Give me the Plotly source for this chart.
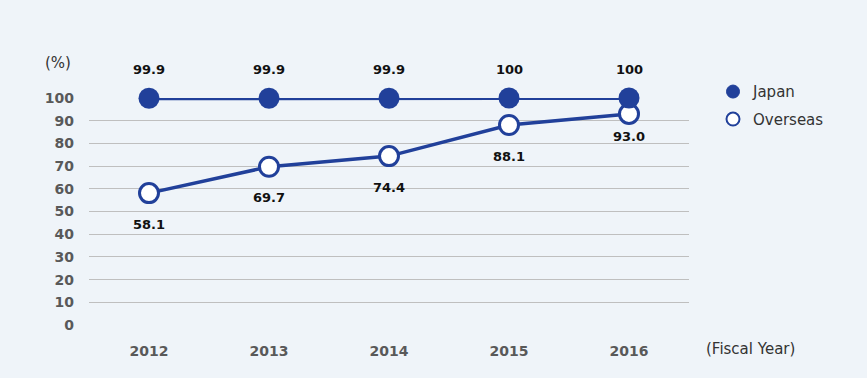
import plotly.graph_objects as go

years = ["2012", "2013", "2014", "2015", "2016"]
japan = [99.9, 99.9, 99.9, 100, 100]
japan_labels = ["99.9", "99.9", "99.9", "100", "100"]
overseas = [58.1, 69.7, 74.4, 88.1, 93.0]
overseas_labels = ["58.1", "69.7", "74.4", "88.1", "93.0"]
overseas_label_pos = ["below", "below", "below", "below", "below-near"]
y_ticks = [0, 10, 20, 30, 40, 50, 60, 70, 80, 90, 100]

BLUE = "#21409a"
BG = "#eff4f9"
FONT = "DejaVu Sans"
shift = {"below": -31, "below-near": -23}

fig = go.Figure()

fig.add_trace(go.Scatter(
    x=years, y=overseas, mode="lines+markers", showlegend=False,
    line=dict(color=BLUE, width=3.5),
    marker=dict(size=19, color="white", line=dict(color=BLUE, width=3)),
    cliponaxis=False,
))
fig.add_trace(go.Scatter(
    x=years, y=japan, mode="lines+markers", showlegend=False,
    line=dict(color=BLUE, width=4),
    marker=dict(size=21, color=BLUE, line=dict(color=BLUE, width=0)),
    cliponaxis=False,
))
# legend-only entries
fig.add_trace(go.Scatter(
    x=[None], y=[None], mode="markers", name="Japan", legendgroup="a",
    marker=dict(size=13, color=BLUE, line=dict(color=BLUE, width=1)),
))
fig.add_trace(go.Scatter(
    x=[None], y=[None], mode="markers", name="Overseas", legendgroup="b",
    marker=dict(size=13, color="white", line=dict(color=BLUE, width=2)),
))

annotations = []
for i, (yv, t) in enumerate(zip(japan, japan_labels)):
    annotations.append(dict(x=i, y=yv, text=t, showarrow=False, yshift=29,
                            font=dict(family=FONT, size=13, color="#111111", weight="bold")))
for i, (yv, t, p) in enumerate(zip(overseas, overseas_labels, overseas_label_pos)):
    annotations.append(dict(x=i, y=yv, text=t, showarrow=False, yshift=shift[p],
                            font=dict(family=FONT, size=13, color="#111111", weight="bold")))
annotations.append(dict(xref="paper", yref="paper", x=-0.027, y=1.155, text="(%)",
                        showarrow=False, xanchor="right", yanchor="middle",
                        font=dict(family=FONT, size=15, color="#333333")))
annotations.append(dict(xref="paper", yref="paper", x=1.025, y=-0.105, text="(Fiscal Year)",
                        showarrow=False, xanchor="left", yanchor="middle",
                        font=dict(family=FONT, size=15, color="#333333")))

fig.update_layout(
    width=867, height=378,
    margin=dict(l=89, r=178, t=98, b=53),
    paper_bgcolor=BG, plot_bgcolor=BG,
    font=dict(family=FONT),
    annotations=annotations,
    legend=dict(x=1.04, y=1.1, xanchor="left", yanchor="top",
                bgcolor="rgba(0,0,0,0)",
                font=dict(family=FONT, size=15, color="#333333"),
                itemwidth=30, tracegroupgap=5),
    xaxis=dict(type="category", range=[-0.5, 4.5], showgrid=False, zeroline=False,
               showline=False, ticks="", ticklabelstandoff=16,
               tickfont=dict(family=FONT, size=14, color="#595959", weight="bold")),
    yaxis=dict(range=[0, 100], tickvals=y_ticks, showgrid=True, gridcolor="#bfbfbf",
               gridwidth=1, zeroline=False, showline=False, ticks="", ticklabelstandoff=14,
               tickfont=dict(family=FONT, size=14, color="#595959", weight="bold")),
)

fig.write_html("out.html", post_script="document.body.style.margin='0';",
               config={"displayModeBar": False})
